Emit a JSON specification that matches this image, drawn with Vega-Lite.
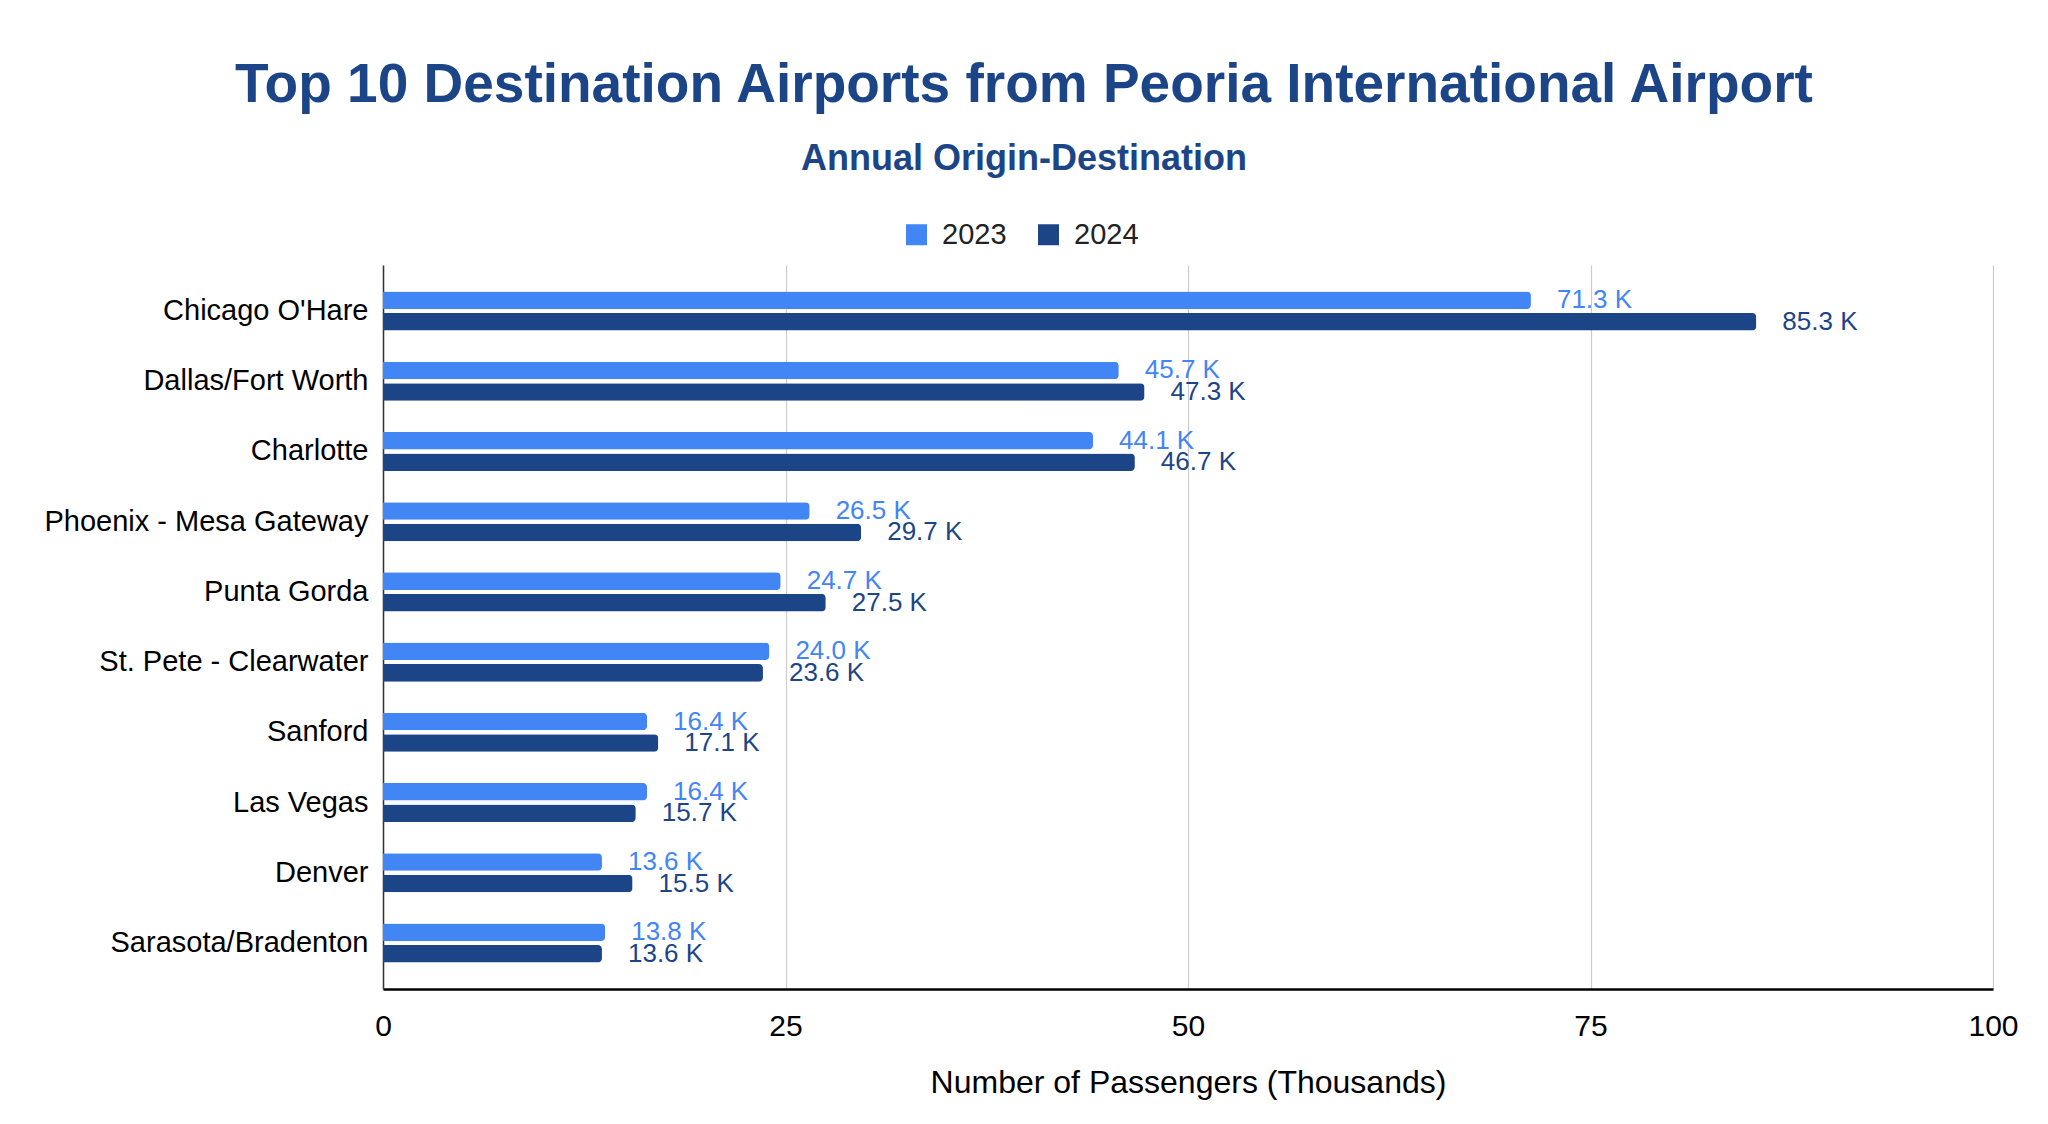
{
  "$schema": "https://vega.github.io/schema/vega-lite/v6.json",
  "width": 1610,
  "height": 724,
  "autosize": {"type": "none"},
  "padding": {"left": 383, "top": 265, "right": 55, "bottom": 135},
  "title": {
    "text": "Top 10 Destination Airports from Peoria International Airport",
    "subtitle": "Annual Origin-Destination",
    "anchor": "middle",
    "frame": "group",
    "dx": -164,
    "offset": 42,
    "font": "Liberation Sans",
    "fontSize": 55,
    "fontWeight": "bold",
    "color": "#1c4587",
    "subtitleFont": "Liberation Sans",
    "subtitleFontSize": 36,
    "subtitleFontWeight": "bold",
    "subtitleColor": "#1c4587",
    "subtitlePadding": 28
  },
  "data": {
    "values": [
      {"airport": "Chicago O'Hare", "year": "2023", "value": 71.3, "label": "71.3 K"},
      {"airport": "Chicago O'Hare", "year": "2024", "value": 85.3, "label": "85.3 K"},
      {"airport": "Dallas/Fort Worth", "year": "2023", "value": 45.7, "label": "45.7 K"},
      {"airport": "Dallas/Fort Worth", "year": "2024", "value": 47.3, "label": "47.3 K"},
      {"airport": "Charlotte", "year": "2023", "value": 44.1, "label": "44.1 K"},
      {"airport": "Charlotte", "year": "2024", "value": 46.7, "label": "46.7 K"},
      {"airport": "Phoenix - Mesa Gateway", "year": "2023", "value": 26.5, "label": "26.5 K"},
      {"airport": "Phoenix - Mesa Gateway", "year": "2024", "value": 29.7, "label": "29.7 K"},
      {"airport": "Punta Gorda", "year": "2023", "value": 24.7, "label": "24.7 K"},
      {"airport": "Punta Gorda", "year": "2024", "value": 27.5, "label": "27.5 K"},
      {"airport": "St. Pete - Clearwater", "year": "2023", "value": 24.0, "label": "24.0 K"},
      {"airport": "St. Pete - Clearwater", "year": "2024", "value": 23.6, "label": "23.6 K"},
      {"airport": "Sanford", "year": "2023", "value": 16.4, "label": "16.4 K"},
      {"airport": "Sanford", "year": "2024", "value": 17.1, "label": "17.1 K"},
      {"airport": "Las Vegas", "year": "2023", "value": 16.4, "label": "16.4 K"},
      {"airport": "Las Vegas", "year": "2024", "value": 15.7, "label": "15.7 K"},
      {"airport": "Denver", "year": "2023", "value": 13.6, "label": "13.6 K"},
      {"airport": "Denver", "year": "2024", "value": 15.5, "label": "15.5 K"},
      {"airport": "Sarasota/Bradenton", "year": "2023", "value": 13.8, "label": "13.8 K"},
      {"airport": "Sarasota/Bradenton", "year": "2024", "value": 13.6, "label": "13.6 K"}
    ]
  },
  "encoding": {
    "y": {
      "field": "airport", "type": "nominal", "sort": null,
      "scale": {"paddingInner": 0.444, "paddingOuter": 0.377},
      "axis": {
        "title": null, "ticks": false, "grid": false, "labelLimit": 0,
        "labelFont": "Liberation Sans", "labelFontSize": 29, "labelColor": "#000",
        "labelPadding": 15, "domainColor": "#333", "domainWidth": 1.5
      }
    },
    "yOffset": {
      "field": "year", "type": "nominal",
      "scale": {"paddingInner": 0.186, "paddingOuter": 0}
    },
    "x": {
      "field": "value", "type": "quantitative",
      "scale": {"domain": [0, 100]},
      "axis": {
        "values": [0, 25, 50, 75, 100],
        "title": "Number of Passengers (Thousands)",
        "grid": true, "gridColor": "#ccc", "gridWidth": 1.2,
        "ticks": false, "domainColor": "#000", "domainWidth": 2.5,
        "labelFlush": false, "labelAlign": "center",
        "labelFont": "Liberation Sans", "labelFontSize": 30, "labelColor": "#000", "labelPadding": 22,
        "titleFont": "Liberation Sans", "titleFontSize": 32, "titleFontWeight": "normal",
        "titleColor": "#000", "titlePadding": 26
      }
    },
    "color": {
      "field": "year", "type": "nominal",
      "scale": {"domain": ["2023", "2024"], "range": ["#4285f4", "#1c4587"]},
      "legend": {
        "orient": "none", "legendX": 519, "legendY": -45, "direction": "horizontal",
        "title": null, "symbolType": "square", "symbolSize": 441, "symbolStrokeWidth": 0,
        "labelFont": "Liberation Sans", "labelFontSize": 29, "labelColor": "#222",
        "labelOffset": 11, "columnPadding": 27
      }
    }
  },
  "layer": [
    {"mark": {"type": "bar", "cornerRadiusEnd": 4}},
    {
      "mark": {"type": "text", "align": "left", "baseline": "middle", "dx": 26, "font": "Liberation Sans", "fontSize": 26},
      "encoding": {"text": {"field": "label"}}
    }
  ],
  "config": {"view": {"stroke": "transparent"}}
}
